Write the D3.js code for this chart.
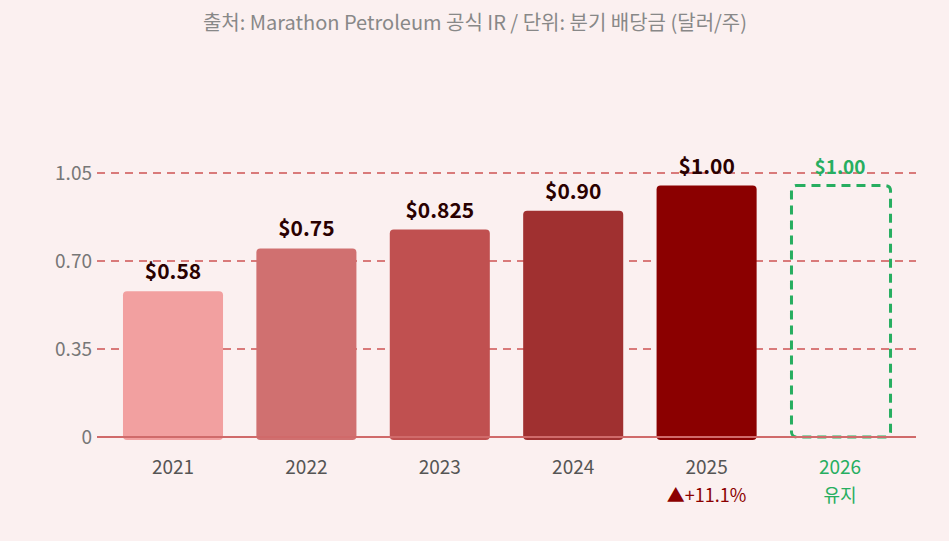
<!DOCTYPE html>
<html><head><meta charset="utf-8">
<script src="https://cdn.jsdelivr.net/npm/d3@7"></script>
<style>
body{margin:0;background:#fbf0f0;font-family:"Noto Sans CJK KR","Noto Sans",sans-serif;}
</style></head>
<body><svg id="chart" width="949" height="541"></svg>
<script>
const years = ["2021","2022","2023","2024","2025","2026"];
const dividends = [0.58, 0.75, 0.825, 0.90, 1.00, 1.00];
const valueLabels = ["$0.58","$0.75","$0.825","$0.90","$1.00","$1.00"];
const yTicks = [0, 0.35, 0.70, 1.05];
const yTickLabels = ["0","0.35","0.70","1.05"];
const barColors = ["#f2a0a0","#d07070","#c05050","#a03030","#8b0000"];

const svg = d3.select("#chart");
svg.append("rect").attr("width",949).attr("height",541).attr("fill","#fbf0f0");

let x = d3.scaleBand().domain(years).range([106.3, 906.7]).paddingInner(0.25).paddingOuter(0.125);
let y = d3.scaleLinear().domain([0, 1.05]).range([437, 173]);

svg.append("text").attr("x",475).attr("y",30).attr("text-anchor","middle")
  .attr("fill","#888").attr("font-size",20)
  .text("출처: Marathon Petroleum 공식 IR / 단위: 분기 배당금 (달러/주)");

// gridlines
yTicks.slice(1).forEach(t=>{
  svg.append("line").attr("x1",97).attr("x2",916).attr("y1",y(t)).attr("y2",y(t))
    .attr("stroke","#d97a7a").attr("stroke-width",2).attr("stroke-dasharray","8,6");
});
yTicks.forEach((t,i)=>{
  svg.append("text").attr("x",92).attr("y",y(t)+7).attr("text-anchor","end")
    .attr("fill","#777").attr("font-size",19).text(yTickLabels[i]);
});

// bars
years.forEach((yr,i)=>{
  const v = dividends[i];
  if (i < 5) {
    svg.append("rect").attr("x",x(yr)).attr("y",y(v)).attr("width",x.bandwidth())
      .attr("height",y(0)-y(v)+3).attr("rx",4).attr("fill",barColors[i]);
  } else {
    svg.append("rect").attr("x",x(yr)+1.5).attr("y",y(v)).attr("width",x.bandwidth()-1)
      .attr("height",y(0)-y(v)).attr("rx",5).attr("fill","none")
      .attr("stroke","#27ae60").attr("stroke-width",3).attr("stroke-dasharray","9,6");
  }
  svg.append("text").attr("x",x(yr)+x.bandwidth()/2).attr("y",y(v)-12)
    .attr("text-anchor","middle").attr("font-weight","bold")
    .attr("font-size", i<5 ? 21 : 19)
    .attr("fill", i<5 ? "#2a0000" : "#27ae60").text(valueLabels[i]);
  svg.append("text").attr("x",x(yr)+x.bandwidth()/2).attr("y",474)
    .attr("text-anchor","middle").attr("font-size",19)
    .attr("fill", i<5 ? "#555" : "#27ae60").text(yr);
});

// baseline
svg.append("line").attr("x1",97).attr("x2",916).attr("y1",y(0)).attr("y2",y(0))
  .attr("stroke","#d06a6a").attr("stroke-width",2);

svg.append("text").attr("x",x("2025")+x.bandwidth()/2).attr("y",502).attr("text-anchor","middle")
  .attr("font-size",18).attr("fill","#8b0000").text("▲+11.1%");
svg.append("text").attr("x",x("2026")+x.bandwidth()/2).attr("y",502).attr("text-anchor","middle")
  .attr("font-size",18).attr("fill","#27ae60").text("유지");
</script></body></html>
